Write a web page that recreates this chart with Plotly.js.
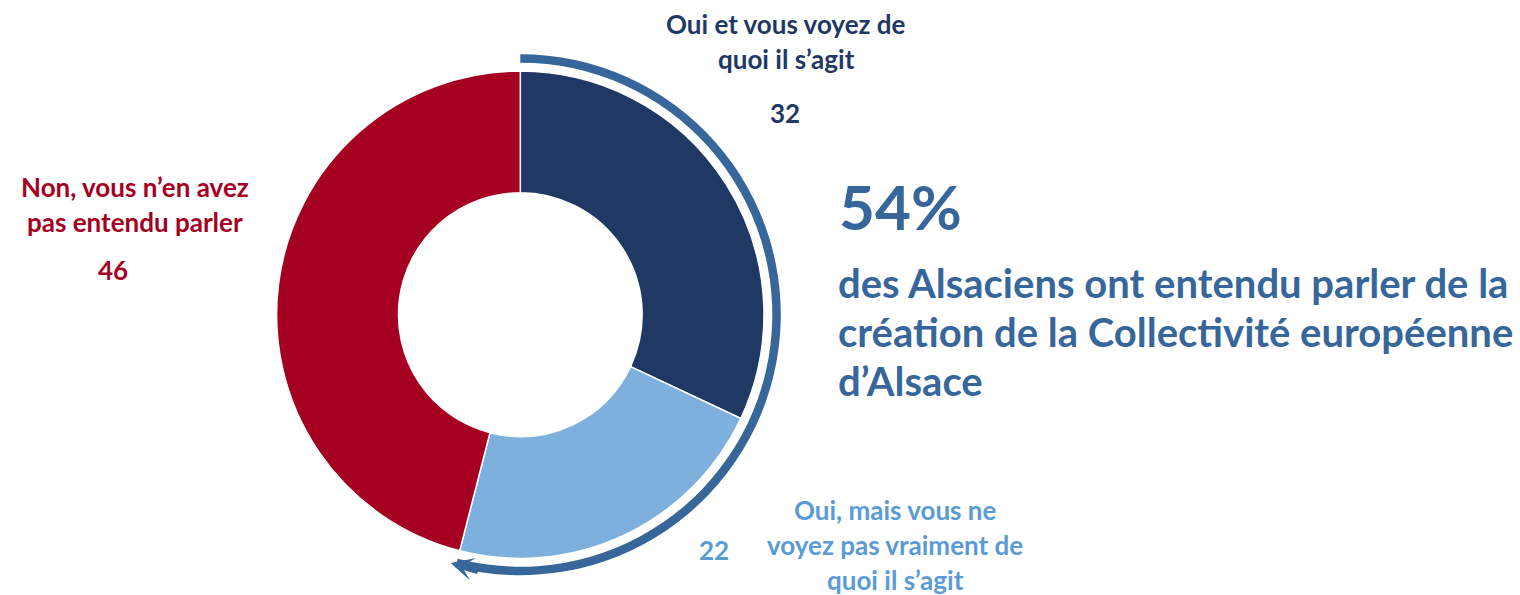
<!DOCTYPE html>
<html>
<head>
<meta charset="utf-8">
<script src="https://cdn.plot.ly/plotly-3.0.1.min.js"></script>
<style>html,body{margin:0;padding:0;background:#fff;}#chart{width:1520px;height:595px;}</style>
</head>
<body>
<div id="chart"></div>
<script>
// ---- data ----
const categories = [
  "Oui et vous voyez de quoi il s’agit",
  "Oui, mais vous ne voyez pas vraiment de quoi il s’agit",
  "Non, vous n’en avez pas entendu parler"
];
const values = [32, 22, 46];
const labelLines = [
  ["Oui et vous voyez de", "quoi il s’agit"],
  ["Oui, mais vous ne", "voyez pas vraiment de", "quoi il s’agit"],
  ["Non, vous n’en avez", "pas entendu parler"]
];
const bodyLines = [
  "des Alsaciens ont entendu parler de la",
  "création de la Collectivité européenne",
  "d’Alsace"
];

// ---- style / layout ----
const W = 1520, H = 595;
const sliceColors = ["#203864", "#7EB0DE", "#A50021"];
const labelColors = ["#1F3864", "#5B9BD5", "#A50021"];
const ringColor = "#37679A";
const FONT = "Lato, 'Open Sans', sans-serif";
const cx = 520.3, cy = 314.7, R = 243.7, ringR = 260.5, ringIn = 252;

function domainFor(r) {
  return {
    x: [(cx - r) / W, (cx + r) / W],
    y: [(H - cy - r) / H, (H - cy + r) / H]
  };
}
const total = values.reduce((a, b) => a + b, 0);
const heard = values[0] + values[1];
const pct = Math.round(heard / total * 100);

const donut = {
  type: "pie",
  values: values,
  labels: categories,
  sort: false,
  direction: "clockwise",
  rotation: 0,
  hole: 0.5,
  textinfo: "none",
  hoverinfo: "label+value",
  marker: { colors: sliceColors, line: { color: "#ffffff", width: 1.5 } },
  domain: domainFor(R),
  showlegend: false
};
const ring = {
  type: "pie",
  values: [heard, total - heard],
  labels: ["heard", "rest"],
  sort: false,
  direction: "clockwise",
  rotation: 0,
  hole: ringIn / ringR,
  textinfo: "none",
  hoverinfo: "skip",
  marker: { colors: [ringColor, "rgba(0,0,0,0)"], line: { width: 0 } },
  domain: domainFor(ringR),
  showlegend: false
};

const annotations = [];
function px(x) { return x / W; }
function py(y) { return (H - y) / H; }
function addText(text, x, y, size, color, anchor) {
  annotations.push({
    xref: "paper", yref: "paper", x: px(x), y: py(y),
    text: text, showarrow: false,
    xanchor: anchor || "center", yanchor: "middle",
    font: { family: FONT, size: size, color: color, weight: 700 }
  });
}
// label blocks
const lblSize = 26, lblGap = 35;
const labelPos = [
  { x: 786, y: 24, vx: 785, vy: 113 },
  { x: 895, y: 510, vx: 714, vy: 550 },
  { x: 135, y: 187, vx: 113, vy: 270 }
];
labelLines.forEach((lines, i) => {
  lines.forEach((ln, j) => addText(ln, labelPos[i].x, labelPos[i].y + j * lblGap, lblSize, labelColors[i]));
  addText(String(values[i]), labelPos[i].vx, labelPos[i].vy, lblSize, labelColors[i]);
});
// headline
addText(pct + "%", 837, 206, 62, ringColor, "left");
bodyLines.forEach((ln, j) => addText(ln, 836, 283 + j * 49, 40, ringColor, "left"));

// arrow head at end of the ring
const theta = (heard / total) * 2 * Math.PI + 0.022;
const tipR = (ringR + ringIn) / 2 + 1.5;
const tipX = cx + tipR * Math.sin(theta);
const tipY = cy - tipR * Math.cos(theta);
const tx = Math.cos(theta), ty = Math.sin(theta);
const L = 30;
annotations.push({
  xref: "paper", yref: "paper", x: px(tipX), y: py(tipY),
  ax: -tx * L, ay: -ty * L,
  axref: "pixel", ayref: "pixel",
  text: "", showarrow: true,
  arrowhead: 3, arrowsize: 0.55, arrowwidth: 7, arrowcolor: ringColor
});

const layout = {
  width: W, height: H,
  margin: { l: 0, r: 0, t: 0, b: 0 },
  paper_bgcolor: "#ffffff",
  plot_bgcolor: "#ffffff",
  showlegend: false,
  annotations: annotations
};
Plotly.newPlot("chart", [ring, donut], layout, { displayModeBar: false, staticPlot: true });
</script>
</body>
</html>
